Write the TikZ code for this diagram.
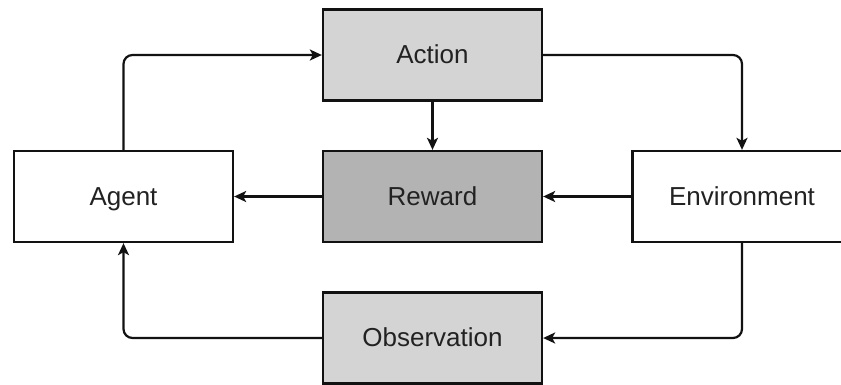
\documentclass[tikz,border=0pt]{standalone}
\usepackage{fontspec}
\setmainfont{Liberation Sans}
\usetikzlibrary{arrows.meta}
\definecolor{lightbox}{HTML}{D4D4D4}
\definecolor{darkbox}{HTML}{B3B3B3}
\definecolor{txt}{HTML}{222222}
\begin{document}
\begin{tikzpicture}[x=1pt,y=-1pt,
  box/.style={draw=black!93, line width=2.3pt, rectangle, minimum width=219pt, minimum height=91pt,
    inner sep=0pt, text height=20pt, text depth=3pt, font=\fontsize{26}{30}\selectfont, text=txt},
  arr/.style={draw=black!93, line width=2.2pt, rounded corners=9pt,
    -{Stealth[length=12pt,width=11pt,inset=3pt]}}]
\useasboundingbox (0,0) rectangle (841,384);
\clip (0,0) rectangle (841,384);
\fill[white] (0,0) rectangle (841,384);
\node[box, fill=lightbox] (action) at (432.5,55) {Action};
\node[box, fill=darkbox] (reward) at (432.5,196.5) {Reward};
\node[box, fill=lightbox] (obs) at (432.5,338) {Observation};
\node[box, fill=white] (agent) at (123.5,196.5) {Agent};
\node[box, fill=white] (env) at (742,196.5) {Environment};
\draw[arr] (agent.north) |- (action.west);
\draw[arr] (action.east) -| (env.north);
\draw[arr] (env.south) |- (obs.east);
\draw[arr] (obs.west) -| (agent.south);
\draw[arr] (action.south) -- (reward.north);
\draw[arr] (env.west) -- (reward.east);
\draw[arr] (reward.west) -- (agent.east);
\end{tikzpicture}
\end{document}
